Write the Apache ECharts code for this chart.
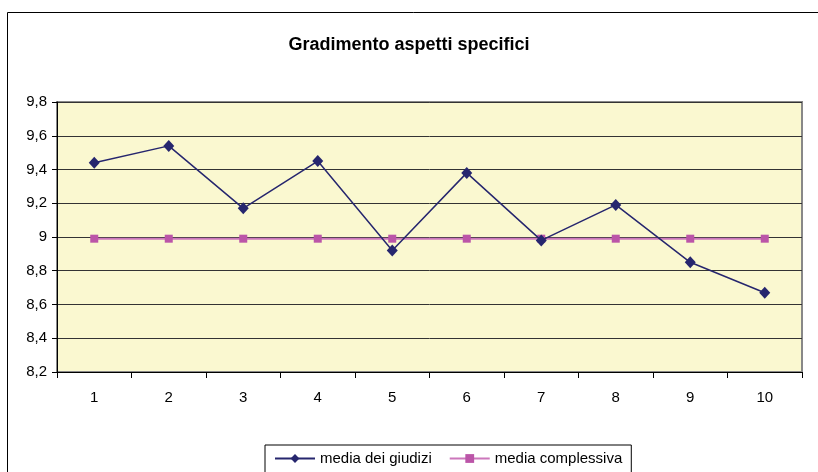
<!DOCTYPE html>
<html>
<head>
<meta charset="utf-8">
<title>Gradimento aspetti specifici</title>
<script src="https://cdn.jsdelivr.net/npm/echarts@6/dist/echarts.min.js"></script>
<style>
  html, body { margin: 0; padding: 0; background: #fff; }
  #chart { width: 818px; height: 472px; }
</style>
</head>
<body>
<div id="chart"></div>
<script>
const categories = ["1", "2", "3", "4", "5", "6", "7", "8", "9", "10"];
const mediaGiudizi = [9.44, 9.54, 9.17, 9.45, 8.92, 9.38, 8.98, 9.19, 8.85, 8.67];
const mediaComplessiva = [8.99, 8.99, 8.99, 8.99, 8.99, 8.99, 8.99, 8.99, 8.99, 8.99];

const chart = echarts.init(document.getElementById("chart"));

chart.setOption({
  animation: false,
  textStyle: { fontFamily: "Liberation Sans, Arial, sans-serif" },
  title: {
    text: "Gradimento aspetti specifici",
    left: "center",
    top: 31,
    textStyle: { fontSize: 18, fontWeight: "bold", color: "#000" },
  },
  graphic: [
    {
      type: "rect",
      shape: { x: 7.5, y: 12.5, width: 830, height: 500 },
      style: { fill: "none", stroke: "#000", lineWidth: 1 },
      z: -1,
    },
  ],
  legend: {
    bottom: -20,
    left: 265,
    itemWidth: 40,
    itemHeight: 11,
    itemGap: 17,
    padding: [6, 9, 26, 9],
    borderColor: "#000",
    borderWidth: 1,
    textStyle: { fontSize: 15, color: "#000" },
    data: ["media dei giudizi", "media complessiva"],
  },
  grid: {
    left: 57,
    right: 16,
    top: 102,
    bottom: 100,
    show: true,
    backgroundColor: "#FAF8D0",
    borderColor: "#888",
    borderWidth: 2,
  },
  xAxis: {
    type: "category",
    data: categories,
    boundaryGap: true,
    axisLine: { lineStyle: { color: "#000", width: 1 } },
    axisTick: { show: true, length: 6, inside: false, lineStyle: { color: "#000" } },
    axisLabel: { fontSize: 15, color: "#000", margin: 18 },
    splitLine: { show: false },
  },
  yAxis: {
    type: "value",
    min: 8.2,
    max: 9.8,
    interval: 0.2,
    axisLine: { show: true, lineStyle: { color: "#000" } },
    axisTick: { show: true, length: 5, lineStyle: { color: "#000" } },
    axisLabel: {
      fontSize: 15,
      color: "#000",
      margin: 10,
      formatter: (v) => String(Math.round(v * 10) / 10).replace(".", ","),
    },
    splitLine: { lineStyle: { color: "#333", width: 1 } },
  },
  series: [
    {
      name: "media dei giudizi",
      type: "line",
      data: mediaGiudizi,
      symbol: "diamond",
      symbolSize: [11, 12],
      lineStyle: { color: "#26266E", width: 1.5 },
      itemStyle: { color: "#26266E" },
      z: 3,
    },
    {
      name: "media complessiva",
      type: "line",
      data: mediaComplessiva,
      symbol: "rect",
      symbolSize: 8,
      lineStyle: { color: "#CC77BB", width: 2 },
      itemStyle: { color: "#BB55A8" },
      z: 2,
    },
  ],
});
</script>
</body>
</html>
